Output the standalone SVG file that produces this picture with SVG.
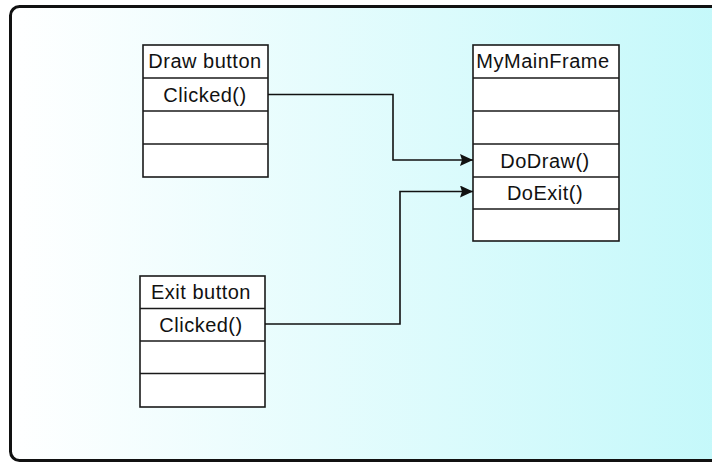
<svg xmlns="http://www.w3.org/2000/svg" width="712" height="464" viewBox="0 0 712 464">
<defs>
<linearGradient id="bg" x1="0" y1="0" x2="1" y2="0">
<stop offset="0" stop-color="#ffffff"/>
<stop offset="1" stop-color="#c2f8fa"/>
</linearGradient>
<marker id="arr" markerUnits="userSpaceOnUse" markerWidth="13" markerHeight="12" refX="13" refY="6" orient="auto">
<path d="M0,0 L13,6 L0,12 L2,6 z" fill="#111"/>
</marker>
<style>
.box rect{fill:#fff;stroke:#1a1a1a;stroke-width:1.6}
.box line{stroke:#1a1a1a;stroke-width:1.6}
text{font-family:"Liberation Sans",Arial,sans-serif;font-size:20px;fill:#111;text-anchor:middle;letter-spacing:0.5px}
.conn path{fill:none;stroke:#111;stroke-width:1.6}
</style>
</defs>
<rect width="712" height="464" fill="#fff"/>
<rect x="10.5" y="6.5" width="740" height="454" rx="9" fill="url(#bg)" stroke="#111" stroke-width="3"/>
<g id="drawbutton" class="box">
<rect x="143" y="45" width="125" height="132"/>
<line x1="143" y1="78" x2="268" y2="78"/>
<line x1="143" y1="111" x2="268" y2="111"/>
<line x1="143" y1="144" x2="268" y2="144"/>
<text x="205" y="68">Draw button</text>
<text x="205" y="102">Clicked()</text>
</g>
<g id="mymainframe" class="box">
<rect x="473" y="45" width="146" height="196"/>
<line x1="473" y1="78" x2="619" y2="78"/>
<line x1="473" y1="111" x2="619" y2="111"/>
<line x1="473" y1="144" x2="619" y2="144"/>
<line x1="473" y1="177" x2="619" y2="177"/>
<line x1="473" y1="209" x2="619" y2="209"/>
<text x="543" y="68">MyMainFrame</text>
<text x="545" y="168">DoDraw()</text>
<text x="545" y="200">DoExit()</text>
</g>
<g id="exitbutton" class="box">
<rect x="140" y="276" width="125" height="131"/>
<line x1="140" y1="308.5" x2="265" y2="308.5"/>
<line x1="140" y1="341" x2="265" y2="341"/>
<line x1="140" y1="373.5" x2="265" y2="373.5"/>
<text x="201" y="299">Exit button</text>
<text x="201" y="332">Clicked()</text>
</g>
<g id="connectors" class="conn">
<path d="M268,94.5 H393 V160 H473" marker-end="url(#arr)"/>
<path d="M265,324 H400 V191.5 H473" marker-end="url(#arr)"/>
</g>
</svg>
